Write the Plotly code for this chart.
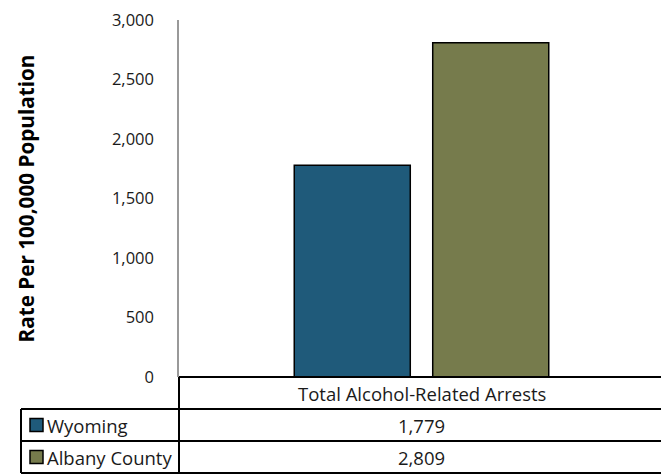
import plotly.graph_objects as go

categories = ["Total Alcohol-Related Arrests"]
series_names = ["Wyoming", "Albany County"]
series_values = [[1779], [2809]]
series_colors = ["#1F5A7A", "#767B4C"]
y_ticks = [0, 500, 1000, 1500, 2000, 2500, 3000]
y_title = "Rate Per 100,000 Population"

OFF = 8  # page body margin
W, H = 669 - OFF, 475 - OFF
L, R, T, B = 179 - OFF, 5, 20 - OFF, 98
PW, PH = W - L - R, H - T - B
FONT = "Open Sans"
ROW_H = 32
LEFT_X = 21 - OFF
TABLE_FONT = 18.5

def px_x(px):
    return (px - L) / PW

def px_y(py):
    return (H - B - py) / PH

fig = go.Figure()
for name, vals, col in zip(series_names, series_values, series_colors):
    fig.add_trace(go.Bar(
        x=categories, y=vals, name=name,
        marker=dict(color=col, line=dict(color="black", width=1.5)),
        showlegend=False,
    ))

shapes = []
annotations = []
base = H - B
line = dict(color="black", width=2)
nrows = len(series_names)
bottom = base + ROW_H * (nrows + 1)
shapes.append(dict(type="line", xref="paper", yref="paper",
                   x0=px_x(L), x1=px_x(W - R), y0=px_y(base), y1=px_y(base), line=line))
shapes.append(dict(type="line", xref="paper", yref="paper",
                   x0=px_x(L), x1=px_x(L), y0=px_y(base), y1=px_y(bottom), line=line))
shapes.append(dict(type="line", xref="paper", yref="paper",
                   x0=px_x(W - R), x1=px_x(W - R), y0=px_y(base), y1=px_y(bottom), line=line))
shapes.append(dict(type="line", xref="paper", yref="paper",
                   x0=px_x(LEFT_X), x1=px_x(LEFT_X), y0=px_y(base + ROW_H), y1=px_y(bottom), line=line))
for i in range(nrows + 1):
    yy = base + ROW_H * (i + 1)
    shapes.append(dict(type="line", xref="paper", yref="paper",
                       x0=px_x(LEFT_X), x1=px_x(W - R), y0=px_y(yy), y1=px_y(yy), line=line))

annotations.append(dict(text=categories[0], xref="paper", yref="paper",
                        x=0.5, y=px_y(base + ROW_H / 2), showarrow=False,
                        font=dict(family=FONT, size=TABLE_FONT, color="#1a1a1a"),
                        xanchor="center", yanchor="middle"))
for i, (name, vals, col) in enumerate(zip(series_names, series_values, series_colors)):
    yc = base + ROW_H * (i + 1.5)
    shapes.append(dict(type="rect", xref="paper", yref="paper",
                       x0=px_x(LEFT_X + 9), x1=px_x(LEFT_X + 22),
                       y0=px_y(yc - 6.5), y1=px_y(yc + 6.5),
                       fillcolor=col, line=dict(color="black", width=1.5)))
    annotations.append(dict(text=name, xref="paper", yref="paper",
                            x=px_x(LEFT_X + 24), y=px_y(yc), showarrow=False,
                            font=dict(family=FONT, size=TABLE_FONT, color="#1a1a1a"),
                            xanchor="left", yanchor="middle"))
    annotations.append(dict(text=f"{vals[0]:,}", xref="paper", yref="paper",
                            x=0.5, y=px_y(yc), showarrow=False,
                            font=dict(family=FONT, size=TABLE_FONT, color="#1a1a1a"),
                            xanchor="center", yanchor="middle"))

annotations.append(dict(text=f"<b>{y_title}</b>", xref="paper", yref="paper",
                        x=px_x(25 - OFF), y=0.5, textangle=-90, showarrow=False,
                        font=dict(family=FONT, size=20.7, color="black"),
                        xanchor="center", yanchor="middle"))

fig.update_layout(
    width=W, height=H,
    margin=dict(l=L, r=R, t=T, b=B, autoexpand=False),
    paper_bgcolor="white", plot_bgcolor="white",
    barmode="group", bargap=0.429, bargroupgap=0.162,
    font=dict(family=FONT, size=15, color="#1a1a1a"),
    xaxis=dict(showticklabels=False, showline=False, showgrid=False, zeroline=False,
               automargin=False),
    yaxis=dict(range=[0, 3000], tickvals=y_ticks, tickformat=",",
               showgrid=False, zeroline=False, showline=True, linecolor="#999999",
               linewidth=1.5, ticks="", ticklabelstandoff=20,
               ticklabeloverflow="allow", automargin=False,
               tickfont=dict(family=FONT, size=16.5, color="#1a1a1a")),
    shapes=shapes, annotations=annotations,
)

fig.write_html("out.html")
